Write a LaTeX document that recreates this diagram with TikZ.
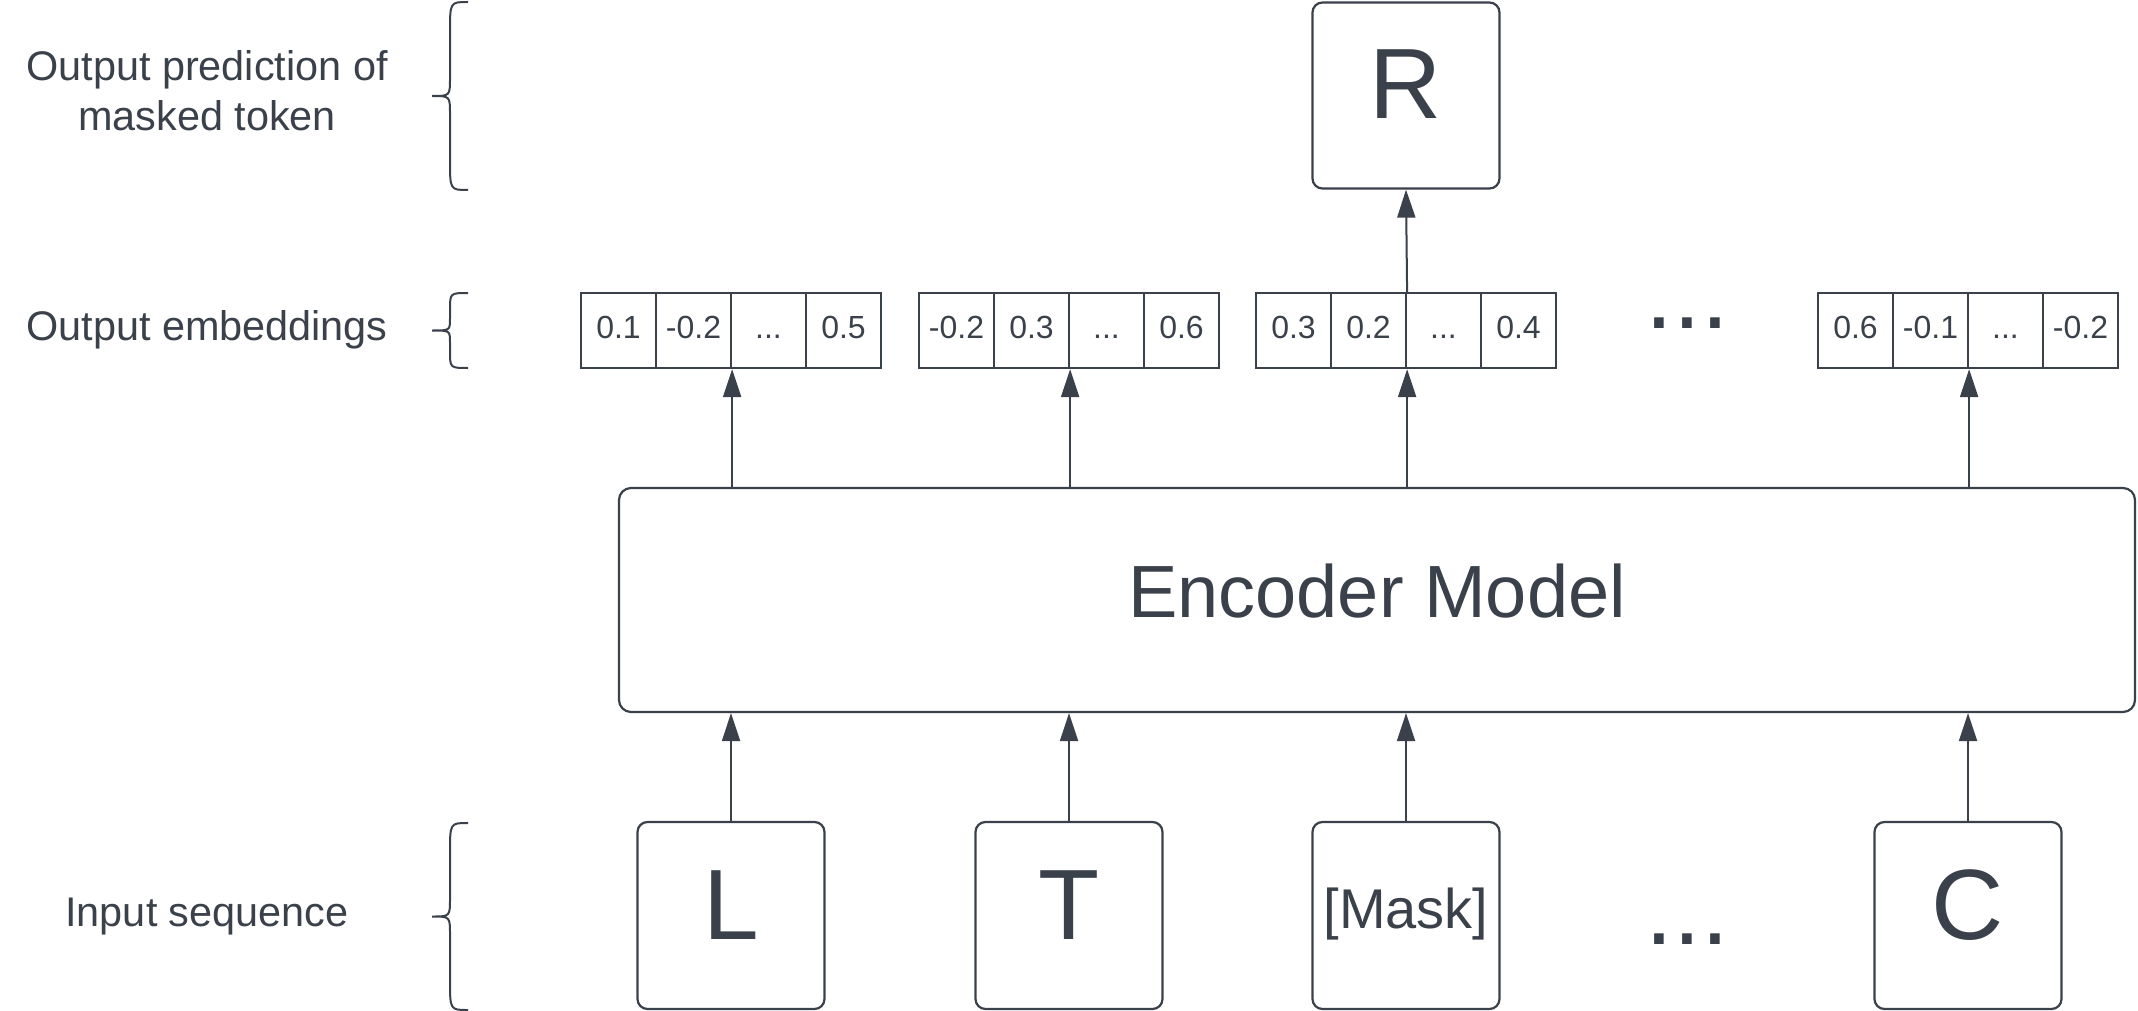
\documentclass[tikz,border=0pt]{standalone}
\usepackage{fontspec}
\setmainfont{Liberation Sans}
\usetikzlibrary{arrows.meta}
\definecolor{ink}{HTML}{3A414A}
\newcommand\drawbrace[4]{%
  \draw[bline] (468,#1) .. controls (450,#1) .. (450,{#1+#3})
    -- (450,{(#1+#2)/2-#4}) .. controls (450,{(#1+#2)/2}) .. (432,{(#1+#2)/2})
    .. controls (450,{(#1+#2)/2}) .. (450,{(#1+#2)/2+#4})
    -- (450,{#2-#3}) .. controls (450,#2) .. (468,#2);}
\begin{document}
\begin{tikzpicture}[x=0.5pt,y=-0.5pt,
  every node/.style={text=ink},
  bline/.style={draw=ink,line width=1pt},
  tokbox/.style={draw=ink,line width=1.1pt,rounded corners=5pt,inner sep=0pt,
    minimum width=93.5pt,minimum height=93.5pt,
    font=\fontsize{50pt}{60pt}\selectfont,text height=36pt,text depth=12.5pt},
  maskbox/.style={tokbox,font=\fontsize{28pt}{34pt}\selectfont,text height=20pt,text depth=7.5pt},
  cell/.style={draw=ink,line width=1.1pt,inner sep=0pt,minimum size=37.5pt,
    font=\fontsize{16pt}{19pt}\selectfont,text height=11.5pt,text depth=4pt},
  enc/.style={draw=ink,line width=1.1pt,rounded corners=6pt,inner sep=0pt,
    minimum width=758pt,minimum height=112pt,
    font=\fontsize{37pt}{44pt}\selectfont,text height=26.5pt,text depth=9.5pt},
  lbl/.style={inner sep=0pt,font=\fontsize{20.7pt}{25pt}\selectfont},
  dots/.style={inner sep=0pt,anchor=base,font=\fontsize{50pt}{60pt}\selectfont},
  arr/.style={draw=ink,line width=1pt,-{Triangle[length=14pt,width=9pt]}}]
\useasboundingbox (0,0) rectangle (2138,1011);

% left labels
\node[lbl,anchor=north,align=center] (lpred) at (207,49.8) {Output prediction of\\masked token};
\node[lbl,anchor=base] (lemb) at (207,340) {Output embeddings};
\node[lbl,anchor=base] (linp) at (207,926) {Input sequence};

% braces
\drawbrace{2}{190}{30}{18}
\drawbrace{293}{368}{17}{12}
\drawbrace{823}{1010}{30}{18}

% output token
\node[tokbox,minimum height=93pt] (R) at (1406,95.5) {R};

% encoder
\node[enc] (enc) at (1377,600) {Encoder Model};

% input tokens
\node[tokbox] (tL) at (731,915.5) {L};
\node[tokbox] (tT) at (1069,915.5) {T};
\node[maskbox] (tM) at (1406,915.5) {[Mask]};
\node[tokbox] (tC) at (1968,915.5) {C};
\node[dots] (idots) at (1687.5,944) {...};

% embeddings
\node[cell] (e1a) at (618.5,330.5) {0.1};
\node[cell] (e1b) at (693.5,330.5) {-0.2};
\node[cell] (e1c) at (768.5,330.5) {...};
\node[cell] (e1d) at (843.5,330.5) {0.5};

\node[cell] (e2a) at (956.5,330.5) {-0.2};
\node[cell] (e2b) at (1031.5,330.5) {0.3};
\node[cell] (e2c) at (1106.5,330.5) {...};
\node[cell] (e2d) at (1181.5,330.5) {0.6};

\node[cell] (e3a) at (1293.5,330.5) {0.3};
\node[cell] (e3b) at (1368.5,330.5) {0.2};
\node[cell] (e3c) at (1443.5,330.5) {...};
\node[cell] (e3d) at (1518.5,330.5) {0.4};

\node[cell] (e4a) at (1855.5,330.5) {0.6};
\node[cell] (e4b) at (1930.5,330.5) {-0.1};
\node[cell] (e4c) at (2005.5,330.5) {...};
\node[cell] (e4d) at (2080.5,330.5) {-0.2};

\node[dots] (edots) at (1687.5,328) {...};

% arrows: inputs to encoder
\draw[arr] (tL.north) -- (tL.north |- enc.south);
\draw[arr] (tT.north) -- (tT.north |- enc.south);
\draw[arr] (tM.north) -- (tM.north |- enc.south);
\draw[arr] (tC.north) -- (tC.north |- enc.south);

% arrows: encoder to embeddings
\draw[arr] (e1b.south east |- enc.north) -- (e1b.south east);
\draw[arr] (e2b.south east |- enc.north) -- (e2b.south east);
\draw[arr] (e3b.south east |- enc.north) -- (e3b.south east);
\draw[arr] (e4b.south east |- enc.north) -- (e4b.south east);

% embedding to prediction
\draw[arr] (e3b.north east) -- (R.south);
\end{tikzpicture}
\end{document}
